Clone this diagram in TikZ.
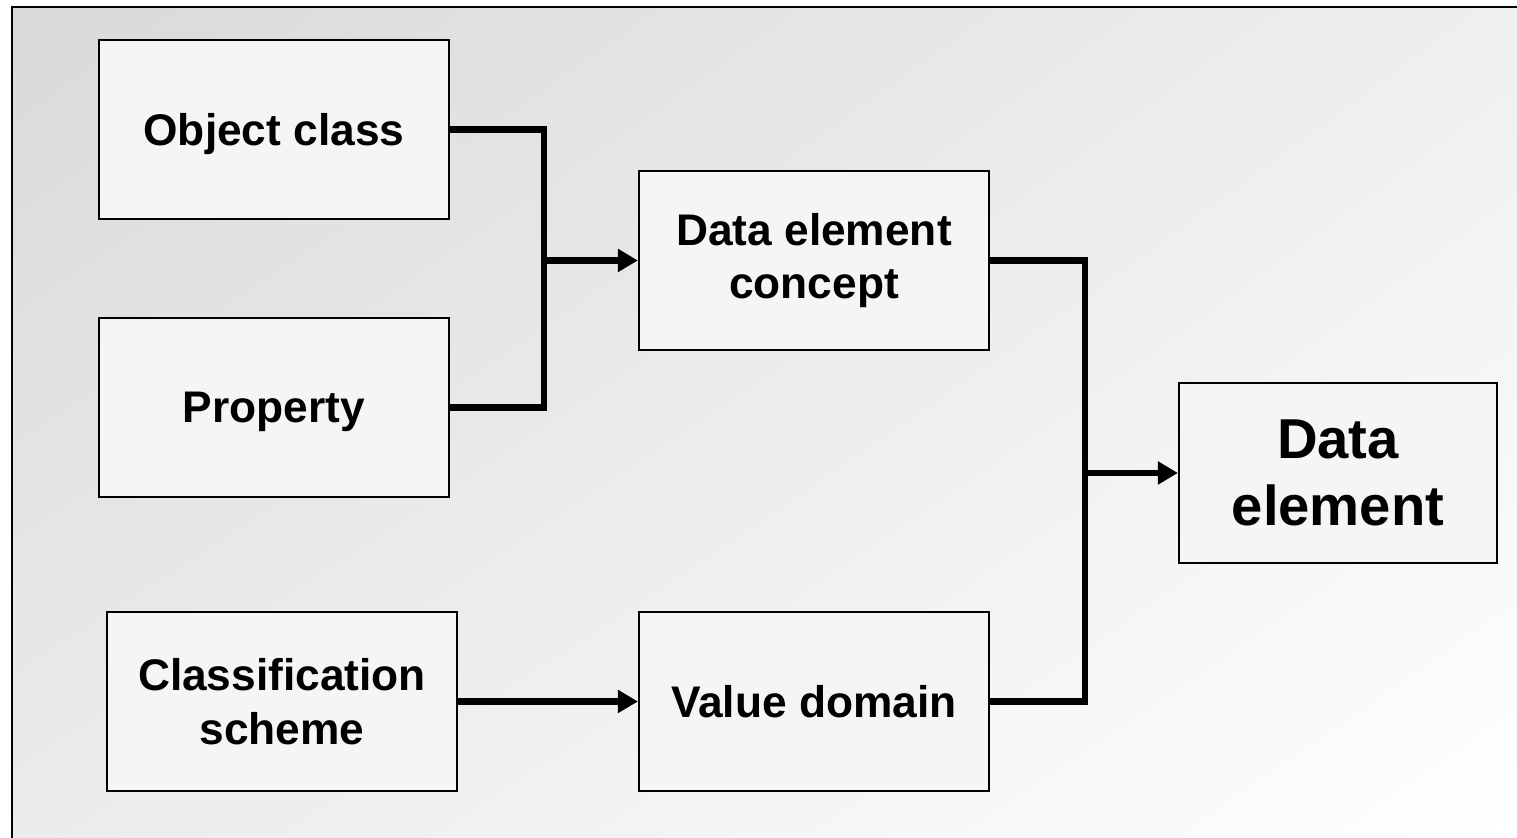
\documentclass[tikz,border=0pt]{standalone}
\usepackage{fontspec}
\setmainfont{Liberation Sans}
\usepackage{tikz}
\usetikzlibrary{arrows.meta,shadings}

\definecolor{bgul}{HTML}{D9D9D9}
\definecolor{bgur}{HTML}{EFEFEF}
\definecolor{bgll}{HTML}{EBEBEB}
\definecolor{boxfill}{HTML}{F5F5F5}

\begin{document}
\begin{tikzpicture}
  %[->,>=latex,line width=1.5pt]
  [>={Triangle[length=2mm,width=2.2mm]},line width=1.8pt,
   box/.style={rectangle,draw,line width=0.6pt,fill=boxfill,align=center,
     font=\bfseries\fontsize{12.6}{15.2}\selectfont,
     minimum width=3.5cm,minimum height=1.79cm,inner sep=0pt},
   onebox/.style={box,text depth=0pt}]
  \useasboundingbox (0,0) rectangle (15.17,8.38);
  \shade[upper left=bgul,upper right=bgur,lower left=bgll,lower right=white]
    (0.12,0) rectangle (15.17,8.31);
  \draw[line width=0.8pt] (0.12,0) -- (0.12,8.31) -- (15.17,8.31);

  \node[onebox] (oc) at (2.74,7.085) {Object class};
  \node[onebox] (pr) at (2.74,4.305) {Property};
  \node[box] (cs) at (2.82,1.365) {Classification\\scheme};
  \node[box] (dec) at (8.14,5.775) {Data element\\concept};
  \node[onebox] (vd) at (8.14,1.365) {Value domain};
  \node[box,minimum width=3.18cm,minimum height=1.8cm,
    font=\bfseries\fontsize{16}{19}\selectfont] (de) at (13.38,3.65) {Data\\element};

  \coordinate (ja) at (5.44,5.775);
  \coordinate (jb) at (10.85,3.65);

  \draw (oc.east) -| (ja) |- (pr.east);
  \draw[->] (ja) -- (dec.west);
  \draw (dec.east) -| (jb) |- (vd.east);
  \draw[->] (jb) -- (de.west);
  \draw[->] (cs.east) -- (vd.west);

\end{tikzpicture}
\end{document}
